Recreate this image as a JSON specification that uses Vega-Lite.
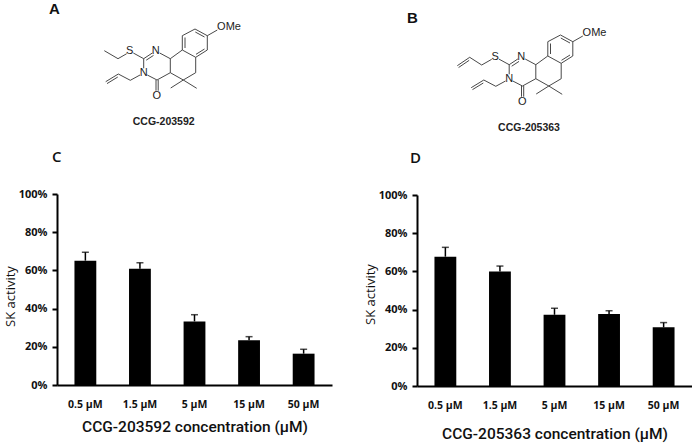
{
"$schema":"https://vega.github.io/schema/vega-lite/v6.json",
"background":"white",
"padding":{"left":4,"top":0,"right":0,"bottom":4},
"autosize":{"type":"pad"},
"bounds":"flush",
"spacing":4,
"config":{"view":{"stroke":null},"axis":{"domainColor":"black","domainWidth":2,"tickColor":"black","tickWidth":2,"grid":false,"labelColor":"#111"}},
"datasets":{
"bonds":[
{"x":105.3,"y":50.7,"x2":119,"y2":58.7},{"x":119,"y":58.7,"x2":127.7,"y2":53.7},{"x":134.3,"y":53,"x2":144.7,"y2":58.7},
{"x":144.7,"y":58.7,"x2":153.3,"y2":53},{"x":147.2,"y":60.2,"x2":154.5,"y2":55.4},{"x":160.7,"y":53,"x2":171.3,"y2":58.7},
{"x":171.3,"y":58.7,"x2":171.3,"y2":72.7},{"x":171.3,"y":72.7,"x2":158,"y2":80},{"x":144.7,"y":58.7,"x2":144.7,"y2":68.3},
{"x":148.3,"y":75,"x2":158,"y2":80},{"x":157,"y":80,"x2":157,"y2":90.7},{"x":159.2,"y":80,"x2":159.2,"y2":90.7},
{"x":141,"y":75,"x2":131.3,"y2":80.3},{"x":131.3,"y":80.3,"x2":119.3,"y2":74},{"x":119.3,"y":74,"x2":106.7,"y2":81.7},{"x":118.8,"y":77,"x2":108,"y2":83.6},
{"x":171.3,"y":58.7,"x2":183.3,"y2":50},{"x":183.3,"y":50,"x2":183.3,"y2":35.7},{"x":183.3,"y":35.7,"x2":196,"y2":29},{"x":196,"y":29,"x2":208.3,"y2":35.7},
{"x":208.3,"y":35.7,"x2":208.3,"y2":50},{"x":208.3,"y":50,"x2":196.7,"y2":57.3},{"x":196.7,"y":57.3,"x2":183.3,"y2":50},
{"x":186,"y":48,"x2":186,"y2":37.5},{"x":196.3,"y":32,"x2":205.5,"y2":37},{"x":205.5,"y":49,"x2":197,"y2":54.3},
{"x":208.3,"y":35.7,"x2":218.3,"y2":30},{"x":196.7,"y":57.3,"x2":196.7,"y2":72.7},{"x":196.7,"y":72.7,"x2":184.3,"y2":80},{"x":184.3,"y":80,"x2":171.3,"y2":72.7},
{"x":184.3,"y":80,"x2":171.7,"y2":88},{"x":184.3,"y":80,"x2":197.7,"y2":88.3},

{"x":492.7,"y":59.3,"x2":482.7,"y2":65},{"x":482.7,"y":65,"x2":470.7,"y2":57.3},{"x":470.7,"y":57.3,"x2":458.3,"y2":65.7},{"x":470.2,"y":60.3,"x2":459.6,"y2":67.5},
{"x":499.8,"y":59,"x2":510.2,"y2":64.7},
{"x":510.2,"y":64.7,"x2":518.8,"y2":59},{"x":512.7,"y":66.2,"x2":520,"y2":61.4},{"x":526.2,"y":59,"x2":536.8,"y2":64.7},
{"x":536.8,"y":64.7,"x2":536.8,"y2":78.7},{"x":536.8,"y":78.7,"x2":523.5,"y2":86},{"x":510.2,"y":64.7,"x2":510.2,"y2":74.3},
{"x":513.8,"y":81,"x2":523.5,"y2":86},{"x":522.5,"y":86,"x2":522.5,"y2":96.7},{"x":524.7,"y":86,"x2":524.7,"y2":96.7},
{"x":506.5,"y":81,"x2":496.8,"y2":86.3},{"x":496.8,"y":86.3,"x2":484.8,"y2":80},{"x":484.8,"y":80,"x2":472.2,"y2":87.7},{"x":484.3,"y":83,"x2":473.5,"y2":89.6},
{"x":536.8,"y":64.7,"x2":548.8,"y2":56},{"x":548.8,"y":56,"x2":548.8,"y2":41.7},{"x":548.8,"y":41.7,"x2":561.5,"y2":35},{"x":561.5,"y":35,"x2":573.8,"y2":41.7},
{"x":573.8,"y":41.7,"x2":573.8,"y2":56},{"x":573.8,"y":56,"x2":562.2,"y2":63.3},{"x":562.2,"y":63.3,"x2":548.8,"y2":56},
{"x":551.5,"y":54,"x2":551.5,"y2":43.5},{"x":561.8,"y":38,"x2":571,"y2":43},{"x":571,"y":55,"x2":562.5,"y2":60.3},
{"x":573.8,"y":41.7,"x2":583.8,"y2":36},{"x":562.2,"y":63.3,"x2":562.2,"y2":78.7},{"x":562.2,"y":78.7,"x2":549.8,"y2":86},{"x":549.8,"y":86,"x2":536.8,"y2":78.7},
{"x":549.8,"y":86,"x2":537.2,"y2":94},{"x":549.8,"y":86,"x2":563.2,"y2":94.3}
],
"atoms":[
{"x":130.7,"y":50.7,"t":"S"},{"x":156.7,"y":50.7,"t":"N"},{"x":144.7,"y":72.7,"t":"N"},{"x":157.7,"y":95.7,"t":"O"},{"x":230,"y":26.7,"t":"OMe"},
{"x":496.2,"y":56.7,"t":"S"},{"x":522.2,"y":56.7,"t":"N"},{"x":510.2,"y":78.7,"t":"N"},{"x":523.2,"y":101.7,"t":"O"},{"x":595.5,"y":32.7,"t":"OMe"}
],
"names":[{"x":164.7,"y":122.3,"t":"CCG-203592"},{"x":530,"y":128,"t":"CCG-205363"}],
"letters":[{"x":50,"y":9,"t":"A"},{"x":408,"y":18,"t":"B"}],
"panels":[{"x":53,"y":157,"t":"C"},{"x":411,"y":157.7,"t":"D"}],
"c":[
{"conc":"0.5 µM","activity":0.651,"upper":0.695},{"conc":"1.5 µM","activity":0.609,"upper":0.64},{"conc":"5 µM","activity":0.333,"upper":0.368},{"conc":"15 µM","activity":0.234,"upper":0.253},{"conc":"50 µM","activity":0.164,"upper":0.187}
],
"d":[
{"conc":"0.5 µM","activity":0.677,"upper":0.726},{"conc":"1.5 µM","activity":0.599,"upper":0.628},{"conc":"5 µM","activity":0.373,"upper":0.407},{"conc":"15 µM","activity":0.377,"upper":0.394},{"conc":"50 µM","activity":0.307,"upper":0.332}
]
},
"vconcat":[
{"width":635,"height":190,
 "encoding":{
  "x":{"field":"x","type":"quantitative","scale":{"domain":[58,693],"nice":false,"zero":false},"axis":null},
  "y":{"field":"y","type":"quantitative","scale":{"domain":[190,0],"nice":false,"zero":false},"axis":null}
 },
 "layer":[
  {"data":{"name":"bonds"},"mark":{"type":"rule","color":"#333","strokeWidth":0.9},"encoding":{"x2":{"field":"x2"},"y2":{"field":"y2"}}},
  {"data":{"name":"atoms"},"mark":{"type":"text","font":"Liberation Sans","fontSize":11,"color":"#222"},"encoding":{"text":{"field":"t"}}},
  {"data":{"name":"names"},"mark":{"type":"text","font":"Liberation Sans","fontSize":10.5,"fontWeight":"bold","color":"#222"},"encoding":{"text":{"field":"t"}}},
  {"data":{"name":"letters"},"mark":{"type":"text","font":"Liberation Sans","fontSize":15,"fontWeight":"bold","color":"#111","align":"left"},"encoding":{"text":{"field":"t"}}},
  {"data":{"name":"panels"},"mark":{"type":"text","font":"Open Sans","fontSize":15,"fontWeight":600,"color":"#111","align":"left"},"encoding":{"text":{"field":"t"}}}
 ]
},
{"bounds":"flush","spacing":85,"hconcat":[
 {"data":{"name":"c"},"width":275,"height":192,
  "encoding":{
   "x":{"field":"conc","type":"nominal","sort":null,"scale":{"paddingInner":0.6,"paddingOuter":0.32},
    "axis":{"title":"CCG-203592 concentration  (µM)","labelAngle":0,"ticks":false,"offset":-1,"labelPadding":14,"labelFont":"Open Sans","labelFontWeight":"bold","labelFontSize":10.5,"titleFont":"Roboto","titleFontSize":15.5,"titleFontWeight":500,"titlePadding":10,"titleColor":"#111"}},
   "y":{"field":"activity","type":"quantitative","scale":{"domain":[0,1],"range":[191,0],"nice":false},
     "axis":{"title":"SK activity","titleY":102,"values":[0,0.2,0.4,0.6,0.8,1],"format":".0%","labelOverlap":false,"labelBound":false,"labelFlush":false,"tickSize":5,"labelPadding":5,"labelFont":"Open Sans","labelFontWeight":"bold","labelFontSize":11,"titleFont":"Open Sans","titleFontSize":13,"titleFontWeight":"normal","titlePadding":1,"titleColor":"#111"}}
  },
  "layer":[
   {"mark":{"type":"bar","color":"black"}},
   {"mark":{"type":"rule","color":"black","strokeWidth":1.5},"encoding":{"y2":{"field":"upper"}}},
   {"mark":{"type":"tick","color":"black","thickness":1.5,"size":7},"encoding":{"y":{"field":"upper","type":"quantitative"}}}
  ]},
 {"data":{"name":"d"},"width":275,"height":192,
  "encoding":{
   "x":{"field":"conc","type":"nominal","sort":null,"scale":{"paddingInner":0.6,"paddingOuter":0.32},
    "axis":{"title":"CCG-205363 concentration  (µM)","labelAngle":0,"ticks":false,"labelPadding":14,"labelFont":"Open Sans","labelFontWeight":"bold","labelFontSize":10.5,"titleFont":"Roboto","titleFontSize":15.5,"titleFontWeight":500,"titlePadding":16,"titleColor":"#111"}},
   "y":{"field":"activity","type":"quantitative","scale":{"domain":[0,1],"range":[192,1],"nice":false},
     "axis":{"title":"SK activity","titleY":100,"values":[0,0.2,0.4,0.6,0.8,1],"format":".0%","labelOverlap":false,"labelBound":false,"labelFlush":false,"tickSize":5,"labelPadding":5,"labelFont":"Open Sans","labelFontWeight":"bold","labelFontSize":11,"titleFont":"Open Sans","titleFontSize":13,"titleFontWeight":"normal","titlePadding":1,"titleColor":"#111"}}
  },
  "layer":[
   {"mark":{"type":"bar","color":"black"}},
   {"mark":{"type":"rule","color":"black","strokeWidth":1.5},"encoding":{"y2":{"field":"upper"}}},
   {"mark":{"type":"tick","color":"black","thickness":1.5,"size":7},"encoding":{"y":{"field":"upper","type":"quantitative"}}}
  ]}
]}
]
}
